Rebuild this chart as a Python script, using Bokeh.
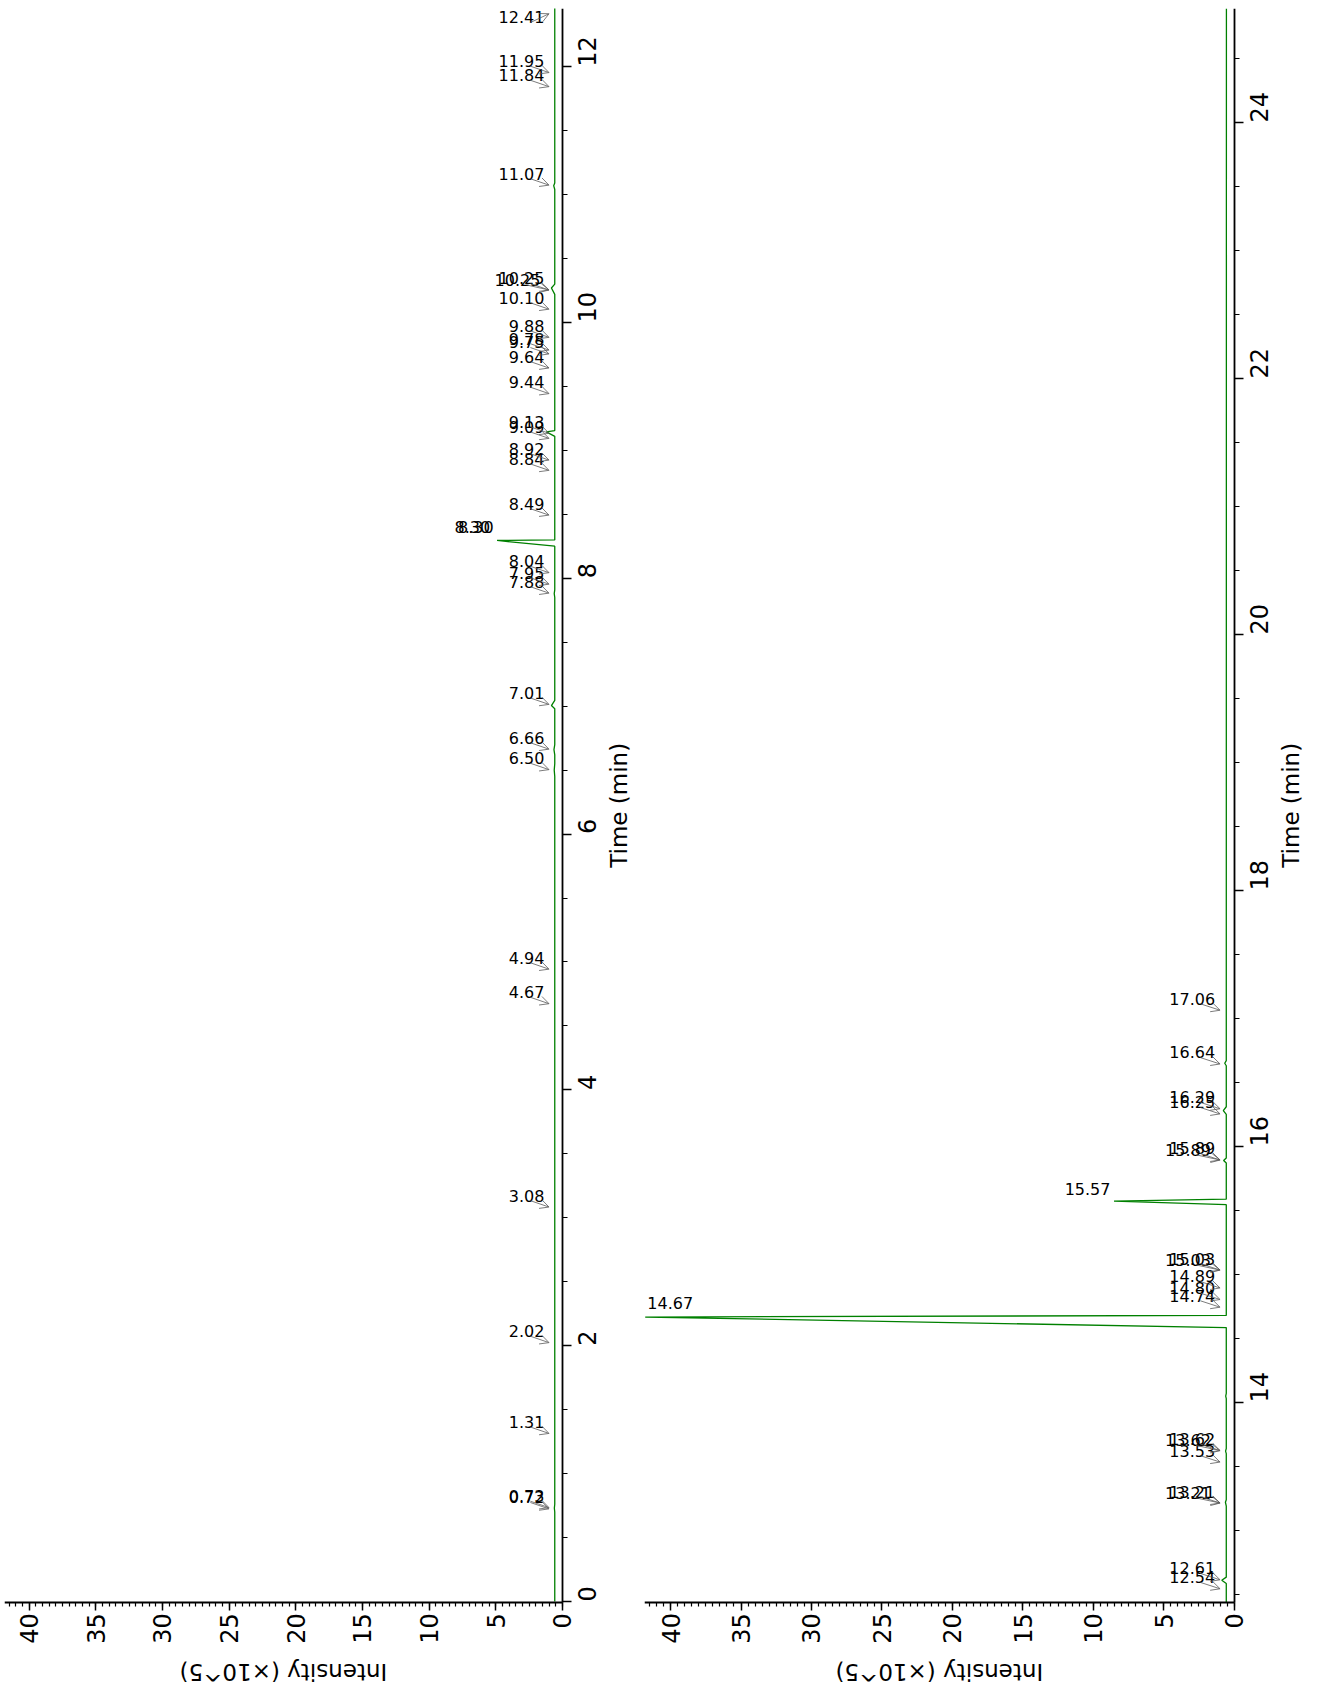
import math
import numpy as np
from bokeh.plotting import figure
from bokeh.layouts import row
from bokeh.models import Range1d, SingleIntervalTicker, Arrow, OpenHead, ColumnDataSource
from bokeh.embed import file_html
from bokeh.resources import INLINE
from bokeh.core.properties import value

# ---------------- data ----------------
# chromatogram trace, first half (time in min, intensity in 1e5 counts)
left_trace_time = [0.00, 0.70, 0.73, 0.76, 6.45, 6.50, 6.55, 6.62, 6.66, 6.70,
                   6.98, 7.005, 7.045, 7.85, 7.88, 7.91, 8.251, 8.296, 8.300,
                   9.11, 9.145, 9.155, 10.22, 10.27, 10.30, 11.04, 11.07, 11.09, 12.46]
left_trace_intensity = [0.57, 0.57, 0.60, 0.57, 0.57, 0.61, 0.57, 0.57, 0.63, 0.57,
                        0.57, 0.82, 0.57, 0.57, 0.61, 0.57, 0.57, 4.90, 0.57,
                        0.57, 1.20, 0.57, 0.57, 0.82, 0.57, 0.57, 0.65, 0.57, 0.57]
# chromatogram trace, second half
right_trace_time = [12.44, 12.585, 12.61, 12.635, 13.19, 13.22, 13.24, 13.60, 13.62, 13.64,
                    14.03, 14.05, 14.07, 14.585, 14.667, 14.68, 15.545, 15.573, 15.588,
                    15.87, 15.89, 15.91, 16.25, 16.28, 16.31, 16.63, 16.65, 16.67, 24.89]
right_trace_intensity = [0.56, 0.56, 0.88, 0.56, 0.56, 0.62, 0.56, 0.56, 0.61, 0.56,
                         0.56, 0.60, 0.56, 0.56, 41.80, 0.56, 0.56, 8.53, 0.56,
                         0.56, 0.75, 0.56, 0.56, 0.77, 0.56, 0.56, 0.67, 0.56, 0.55]
# annotated retention times
left_peak_labels = [0.72, 0.73, 1.31, 2.02, 3.08, 4.67, 4.94, 6.50, 6.66, 7.01, 7.88, 7.95,
                    8.04, 8.30, 8.30, 8.49, 8.84, 8.92, 9.09, 9.13, 9.44, 9.64, 9.75, 9.78,
                    9.88, 10.10, 10.25, 10.25, 11.07, 11.84, 11.95, 12.41]
right_peak_labels = [12.54, 12.61, 13.21, 13.21, 13.53, 13.62, 13.62, 14.67, 14.74, 14.80,
                     14.89, 15.03, 15.03, 15.57, 15.89, 15.89, 16.25, 16.29, 16.64, 17.06]

left_time_range = (-0.005, 12.455)
right_time_range = (12.44, 24.89)
intensity_max = 41.85
x_title = "Intensity (×10^5)"
y_title = "Time (min)"

FONT = "DejaVu Sans"
GREEN = "#008000"
ARROW = "#5a5a5a"


def build(trange, tt, ti, peaks, frame_w, px_per_unit, px_per_min):
    t0, t1 = trange
    frame_h = 1679
    # the frame also holds the area of the tick labels and titles; the axes sit at fixed places
    x_end = intensity_max - frame_w / px_per_unit
    y_start = t1 - frame_h / px_per_min
    p = figure(frame_width=frame_w, frame_height=frame_h,
               x_range=Range1d(intensity_max, x_end), y_range=Range1d(y_start, t1),
               y_axis_location="right", output_backend="svg", toolbar_location=None,
               min_border_left=4, min_border_top=8, min_border_right=0,
               min_border_bottom=0)
    p.outline_line_color = None
    p.xgrid.visible = False
    p.ygrid.visible = False

    p.line(ti, tt, line_color=GREEN, line_width=1.3)

    xa = p.xaxis[0]
    xa.ticker = SingleIntervalTicker(interval=5, num_minor_ticks=10)
    xa.fixed_location = t0
    xa.bounds = (0, intensity_max)
    xa.major_label_orientation = math.pi / 2
    ya = p.yaxis[0]
    ya.ticker = SingleIntervalTicker(interval=2, num_minor_ticks=4)
    ya.fixed_location = 0
    ya.bounds = (t0, t1)
    ya.major_label_orientation = math.pi / 2
    for ax in (xa, ya):
        ax.major_label_text_font = FONT
        ax.major_label_text_font_size = "24px"
        ax.major_label_text_color = "black"
        ax.axis_line_width = 1.8
        ax.axis_line_color = "black"
        ax.major_tick_line_width = 1.5
        ax.minor_tick_line_width = 1.2
        ax.major_tick_in = 0
        ax.minor_tick_in = 0
    xa.major_tick_out = 8
    xa.minor_tick_out = 4
    xa.major_label_standoff = 3
    ya.major_tick_out = 9
    ya.minor_tick_out = 5
    ya.major_label_standoff = 16

    # axis titles: time title reads bottom to top, intensity title upside down
    title_font = dict(text_font=value(FONT), text_font_size="23px", text_color="black",
                      text_align="center", text_baseline="middle")
    p.text(x=[-57.0 / px_per_unit], y=[(t0 + t1) / 2], text=[y_title], angle=math.pi / 2, **title_font)
    p.text(x=[intensity_max / 2], y=[t0 - 70.0 / px_per_min], text=[x_title], angle=math.pi, **title_font)

    tarr = np.array(tt)
    iarr = np.array(ti)
    seen = {}
    rlab = dict(x=[], y=[], text=[])
    llab = dict(x=[], y=[], text=[])
    arr = dict(xs=[], ys=[], xe=[], ye=[])
    for rt in peaks:
        lab = f"{rt:.2f}"
        k = seen.get(lab, 0)
        seen[lab] = k + 1
        near = np.abs(tarr - rt) <= 0.03
        h = iarr[near].max() if near.any() else float(np.interp(rt, tarr, iarr))
        if h > 30:
            llab["x"].append(intensity_max - 0.2 - 0.3 * k)
            llab["y"].append(rt + 0.11)
            llab["text"].append(lab)
        elif h > 3:
            rlab["x"].append(h + 0.25 + 0.27 * k)
            rlab["y"].append(rt + 0.10)
            rlab["text"].append(lab)
        else:
            y = min(rt + 0.094, t1 - 0.07) - 0.01 * k
            x = 1.35 + 0.3 * k
            rlab["x"].append(x)
            rlab["y"].append(y)
            rlab["text"].append(lab)
            arr["xs"].append(2.4 + 0.3 * k)
            arr["ys"].append(y - 0.04)
            arr["xe"].append(1.0)
            arr["ye"].append(rt + 0.004)

    common = dict(text_font=value(FONT), text_font_size="16px", text_color="black",
                  text_baseline="middle")
    p.text(x="x", y="y", text="text", source=ColumnDataSource(rlab), text_align="right", **common)
    if llab["x"]:
        p.text(x="x", y="y", text="text", source=ColumnDataSource(llab), text_align="left", **common)
    p.add_layout(Arrow(end=OpenHead(size=9, line_color=ARROW, line_width=0.8),
                       x_start="xs", y_start="ys", x_end="xe", y_end="ye",
                       source=ColumnDataSource(arr), line_color=ARROW, line_width=0.8))
    return p


p1 = build(left_time_range, left_trace_time, left_trace_intensity, left_peak_labels, 636, 13.33, 127.9)
p2 = build(right_time_range, right_trace_time, right_trace_intensity, right_peak_labels, 676, 14.09, 128.0)
p = row(p1, p2)
open("out.html", "w").write(file_html(p, INLINE))
